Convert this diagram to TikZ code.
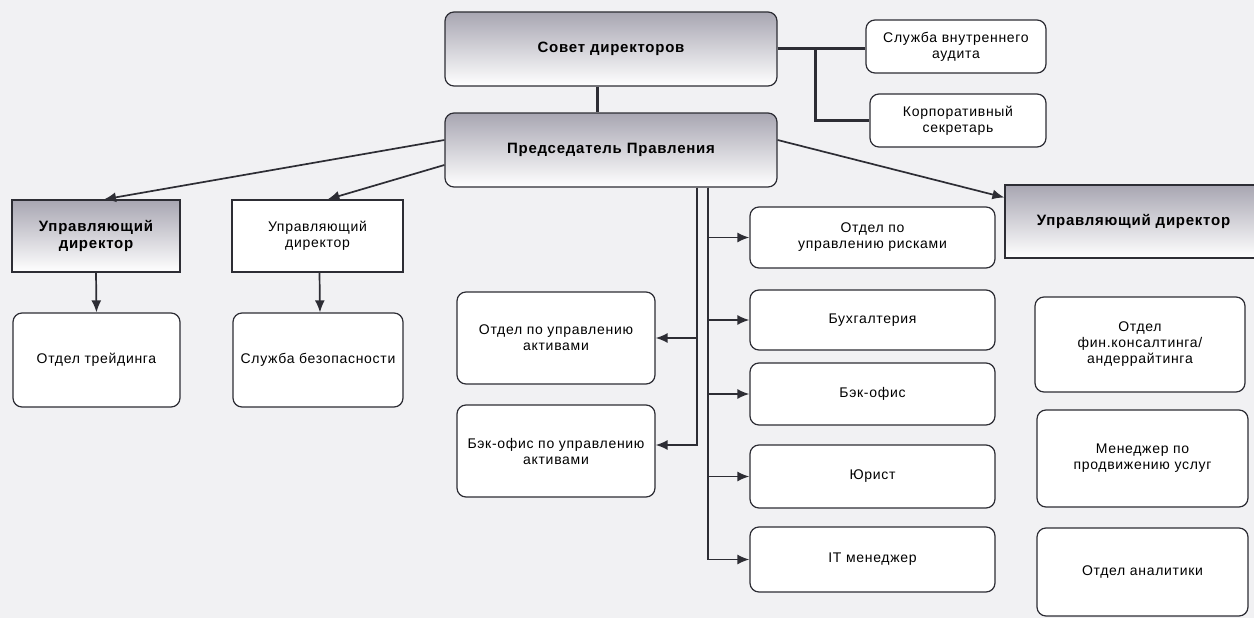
\documentclass[tikz,border=0pt]{standalone}
\usepackage{fontspec}
\setmainfont{Liberation Sans}[LetterSpace=5]
\usetikzlibrary{arrows.meta,positioning}
\definecolor{paper}{RGB}{241,241,243}
\definecolor{ink}{RGB}{45,45,52}
\definecolor{shadetop}{RGB}{168,166,178}

\begin{document}
\begin{tikzpicture}[
		x=1pt, y=-1pt,
		line width=1.2pt,
		node distance=20pt,
		font=\fontsize{14}{16}\selectfont,
		unit/.style={draw=ink, fill=white, rounded corners=9pt, align=center, inner sep=2pt},
		head/.style={unit, top color=shadetop, bottom color=white, font=\fontsize{15}{17}\selectfont\bfseries},
		mgr/.style={draw=ink, fill=white, align=center, inner sep=2pt},
		link/.style={draw=ink, line width=3pt},
		arr/.style={draw=ink, line width=1.7pt, -{Latex[length=12pt,width=10pt]}},
	]
		\fill[paper] (0,0) rectangle (1254,618);
		\useasboundingbox (0,0) rectangle (1254,618);

		% top level
		\node (board) [head, minimum width=332pt, minimum height=74pt] at (611,49) {Совет директоров};
		\node (audit) [unit, minimum width=180pt, minimum height=53pt] at (956,46.5) {Служба внутреннего\\аудита};
		\node (secr) [unit, minimum width=176pt, minimum height=53pt] at (958,120.5) {Корпоративный\\секретарь};
		\node (chair) [head, minimum width=332pt, minimum height=74pt] at (611,150) {Председатель Правления};

		\draw[link] (board.east) -- (board.east -| audit.west);
		\draw[link] ([xshift=38pt]board.east) |- (secr.west);
		\draw[link] ([xshift=-14pt]board.south) -- ([xshift=-14pt]chair.north);

		% managing directors
		\node (mgrA) [mgr, top color=shadetop, bottom color=white, font=\fontsize{15}{17}\selectfont\bfseries, minimum width=168pt, minimum height=72pt] at (96,236) {Управляющий\\директор};
		\node (mgrB) [mgr, minimum width=171pt, minimum height=72pt] at (317.5,236) {Управляющий\\директор};
		\node (mgrC) [mgr, top color=shadetop, bottom color=white, font=\fontsize{15}{17}\selectfont\bfseries, minimum width=257pt, minimum height=73pt] at (1133.5,221.5) {Управляющий директор};

		\node (trade) [unit, minimum width=167pt, minimum height=94pt] at (96.5,360) {Отдел трейдинга};
		\node (secur) [unit, minimum width=170pt, minimum height=94pt] at (318,360) {Служба безопасности};

		\draw[arr] ([yshift=10pt]chair.west) -- ([xshift=8pt]mgrA.north);
		\draw[arr] ([yshift=-15pt]chair.west) -- ([xshift=10pt]mgrB.north);
		\draw[arr] ([yshift=10pt]chair.east) -- ([yshift=24pt]mgrC.west);
		\draw[arr] (mgrA.south) -- (trade.north);
		\draw[arr] ([xshift=2pt]mgrB.south) -- ([xshift=2pt]secur.north);

		% departments under the chairman
		\node (risk) [unit, minimum width=245pt, minimum height=61pt] at (872.5,237.5) {Отдел по\\управлению рисками};
		\node (acct) [unit, minimum width=245pt, minimum height=60pt] at (872.5,320) {Бухгалтерия};
		\node (backoff) [unit, minimum width=245pt, minimum height=62pt] at (872.5,394) {Бэк-офис};
		\node (lawyer) [unit, minimum width=245pt, minimum height=63pt] at (872.5,476.5) {Юрист};
		\node (itman) [unit, minimum width=245pt, minimum height=65pt] at (872.5,559.5) {IT менеджер};

		\node (assets) [unit, minimum width=198pt, minimum height=92pt] at (556,338) {Отдел по управлению\\активами};
		\node (boassets) [unit, minimum width=198pt, minimum height=92pt] at (556,451) {Бэк-офис по управлению\\активами};

		\draw[arr] ([xshift=86pt]chair.south) |- (assets.east);
		\draw[arr] ([xshift=86pt]chair.south) |- ([yshift=6pt]boassets.east);
		\foreach \dept in {risk,acct,backoff,lawyer,itman}
			\draw[arr] ([xshift=97pt]chair.south) |- (\dept.west);

		% right column
		\node (fincons) [unit, minimum width=210pt, minimum height=95pt] at (1140,344.5) {Отдел\\фин.консалтинга/\\андеррайтинга};
		\node (promo) [unit, minimum width=211pt, minimum height=97pt] at (1142.5,458.5) {Менеджер по\\продвижению услуг};
		\node (analyt) [unit, minimum width=211pt, minimum height=88pt] at (1142.5,572) {Отдел аналитики};
	\end{tikzpicture}
\end{document}
